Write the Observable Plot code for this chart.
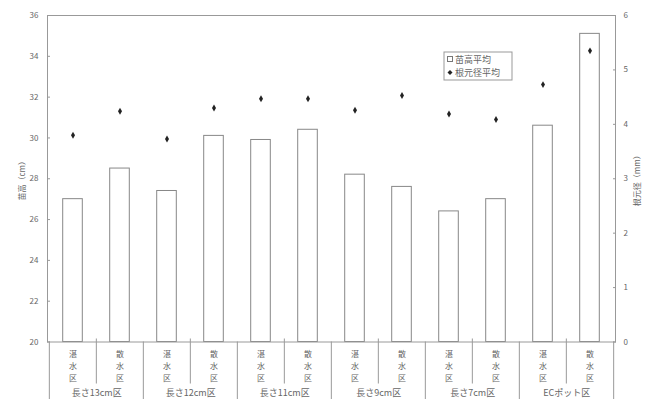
<!DOCTYPE html>
<html>
<head>
<meta charset="utf-8">
<script src="https://cdn.jsdelivr.net/npm/d3@7"></script>
<script src="https://cdn.jsdelivr.net/npm/@observablehq/plot@0.6"></script>
<style>
  body { margin: 0; background: #fff; }
  #chart { width: 648px; height: 399px; }
  #chart svg { font-family: "Noto Sans CJK JP", "Noto Sans", sans-serif; }
</style>
</head>
<body>
<div id="chart"></div>
<script>
// Container groups and watering treatments
const groups = ["長さ13cm区", "長さ12cm区", "長さ11cm区", "長さ9cm区", "長さ7cm区", "ECポット区"];
const treatments = ["湛水区", "散水区"];

// Mean seedling height (cm) and mean root-collar diameter (mm), per group × treatment
const heightMeans = [27.0, 28.5, 27.4, 30.1, 29.9, 30.4, 28.2, 27.6, 26.4, 27.0, 30.6, 35.1];
const diameterMeans = [3.80, 4.24, 3.73, 4.30, 4.47, 4.47, 4.26, 4.53, 4.19, 4.09, 4.73, 5.35];

// Axis ticks
const heightTicks = [20, 22, 24, 26, 28, 30, 32, 34, 36];
const diameterTicks = [0, 1, 2, 3, 4, 5, 6];

// Series names and axis titles
const seriesNames = ["苗高平均", "根元径平均"];
const heightTitle = "苗高（cm）";
const diameterTitle = "根元径（mm）";

const W = 648, H = 399;
const mL = 47, mR = 33, mT = 15, mB = 57.5;
const step = (W - mL - mR) / (groups.length * treatments.length);

const hMin = heightTicks[0], hMax = heightTicks[heightTicks.length - 1];
const dMax = diameterTicks[diameterTicks.length - 1];
// diameter (mm) expressed on the height scale so both share one y axis
const toHeightScale = v => hMin + v * (hMax - hMin) / dMax;
const fromHeightScale = h => (h - hMin) * dMax / (hMax - hMin);

const rows = heightMeans.map((h, i) => ({
  key: i,
  group: groups[Math.floor(i / treatments.length)],
  treatment: treatments[i % treatments.length],
  height: h,
  diameter: diameterMeans[i]
}));
const groupFirst = rows.filter(d => d.key % treatments.length === 0);
const groupSecond = rows.filter(d => d.key % treatments.length !== 0);
const lastRow = rows.slice(-1);

const lineColor = "#999";
const textColor = "#666";

const chart = Plot.plot({
  width: W,
  height: H,
  marginLeft: mL,
  marginRight: mR,
  marginTop: mT,
  marginBottom: mB,
  style: { fontSize: "8px", color: textColor, background: "#fff" },
  x: { type: "band", domain: rows.map(d => d.key), padding: 0, axis: null },
  y: { domain: [hMin, hMax], axis: null },
  marks: [
    // bars for mean height
    Plot.barY(rows, {
      x: "key", y1: hMin, y2: "height",
      fill: "#fff", stroke: "#888", strokeWidth: 1,
      insetLeft: 13.7, insetRight: 13.7
    }),
    // diamonds for mean diameter
    Plot.dot(rows, {
      x: "key", y: d => toHeightScale(d.diameter),
      symbol: "diamond", r: 2.1, fill: "#222", stroke: "none"
    }),
    Plot.frame({ stroke: lineColor }),
    // left axis (height)
    Plot.axisY(heightTicks, {
      anchor: "left", tickSize: -3, tickPadding: 12, stroke: lineColor,
      fill: textColor, fontSize: 8,
      label: heightTitle, labelAnchor: "center", labelArrow: "none", labelOffset: 28
    }),
    // right axis (diameter)
    Plot.axisY(diameterTicks.map(toHeightScale), {
      anchor: "right", tickSize: -3, tickPadding: 11, stroke: lineColor,
      fill: textColor, fontSize: 8,
      tickFormat: d => String(Math.round(fromHeightScale(d))),
      label: diameterTitle, labelAnchor: "center", labelArrow: "none", labelOffset: 24
    }),
    // category table: group separators
    Plot.ruleX(groupFirst, {
      x: "key", dx: -step / 2, y1: hMin, y2: hMin,
      insetTop: 0, insetBottom: -(mB + 1), stroke: lineColor
    }),
    Plot.ruleX(lastRow, {
      x: "key", dx: step / 2, y1: hMin, y2: hMin,
      insetTop: 0, insetBottom: -(mB + 1), stroke: lineColor
    }),
    // treatment separators within each group
    Plot.ruleX(groupSecond, {
      x: "key", dx: -step / 2, y1: hMin, y2: hMin,
      insetTop: -3, insetBottom: -42, stroke: lineColor
    }),
    // treatment labels, written vertically
    Plot.text(rows, {
      x: "key", text: d => Array.from(d.treatment).join("\n"),
      frameAnchor: "bottom", lineAnchor: "top", dy: 6.5, lineHeight: 1.5,
      fontSize: 8, fill: textColor
    }),
    // group labels
    Plot.text(groupFirst, {
      x: "key", text: "group", dx: step / 2,
      frameAnchor: "bottom", lineAnchor: "middle", dy: 51.5,
      fontSize: 9, fill: textColor
    })
  ]
});

document.getElementById("chart").append(chart);

// legend box inside the plot area
const svg = d3.select(chart);
const lg = svg.append("g").attr("transform", "translate(444,52)")
  .attr("font-size", 9).attr("fill", textColor).attr("text-anchor", "start");
lg.append("rect").attr("width", 68).attr("height", 28)
  .attr("fill", "#fff").attr("stroke", lineColor);
lg.append("rect").attr("x", 3.5).attr("y", 4.5).attr("width", 5).attr("height", 5)
  .attr("fill", "#fff").attr("stroke", "#777");
lg.append("text").attr("x", 11).attr("y", 10.5).text(seriesNames[0]);
lg.append("path").attr("d", d3.symbol(d3.symbolDiamond2, 16)())
  .attr("transform", "translate(6,20.5)").attr("fill", "#222");
lg.append("text").attr("x", 11).attr("y", 24).text(seriesNames[1]);
</script>
</body>
</html>
